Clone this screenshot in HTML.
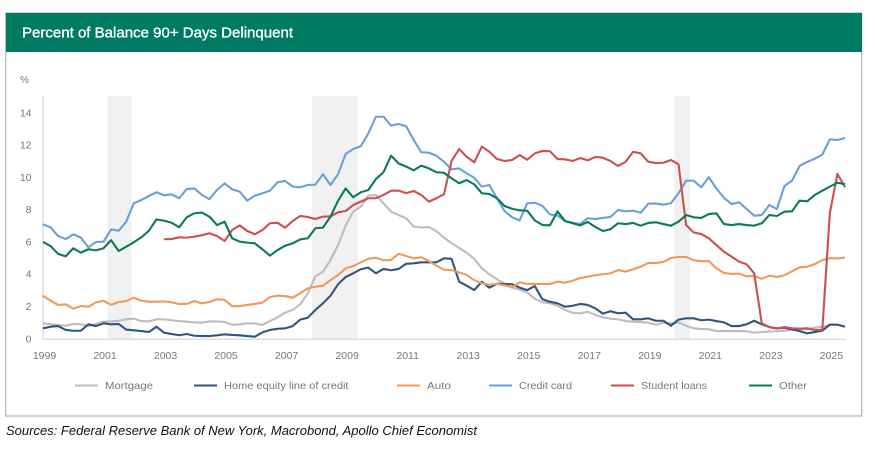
<!DOCTYPE html>
<html lang="en">
<head>
<meta charset="utf-8">
<title>Percent of Balance 90+ Days Delinquent</title>
<style>
html,body{margin:0;padding:0;background:#fff;}
body{width:875px;height:449px;overflow:hidden;font-family:"Liberation Sans",sans-serif;}
svg{display:block;}
</style>
</head>
<body>
<svg id="chart" width="875" height="449" viewBox="0 0 875 449" xmlns="http://www.w3.org/2000/svg">
  <rect x="5.7" y="13" width="856" height="403" fill="#fff" stroke="#b8b8b8" stroke-width="1.3"/>
  <rect x="6" y="13" width="856" height="39" fill="#007b63"/>
  <text x="22" y="37.5" fill="#fff" stroke="#fff" stroke-width="0.3" font-size="14.5" textLength="271" lengthAdjust="spacingAndGlyphs">Percent of Balance 90+ Days Delinquent</text>
  <text x="20" y="83" fill="#777" font-size="10">%</text>
  <g id="bands"></g>
  <g id="axes"></g>
  <g id="series"></g>
  <g id="legend"></g>
  <text x="6" y="435" fill="#111" font-size="12.5" font-style="italic" textLength="471" lengthAdjust="spacingAndGlyphs">Sources: Federal Reserve Bank of New York, Macrobond, Apollo Chief Economist</text>
</svg>
<script>
const startYear = 1999;
const yearTicks = [1999,2001,2003,2005,2007,2009,2011,2013,2015,2017,2019,2021,2023,2025];
const valueTicks = [0,2,4,6,8,10,12,14];
const recessionStarts = [2001.125,2007.88,2019.86];
const recessionEnds = [2001.92,2009.4,2020.38];

const mortgage = [
0.94,0.88,0.84,0.79,0.90,0.88,0.77,0.90,1.04,1.06,
1.10,1.19,1.23,1.08,1.06,1.19,1.19,1.13,1.08,1.04,
1.00,0.98,1.06,1.06,1.02,0.85,0.88,0.94,0.93,0.84,
1.08,1.31,1.60,1.77,2.12,2.80,3.85,4.14,4.86,5.79,
7.00,7.86,8.17,8.85,8.89,8.38,7.86,7.65,7.45,6.93,
6.88,6.90,6.65,6.25,5.90,5.61,5.31,4.93,4.35,3.98,
3.67,3.38,3.15,3.02,2.86,2.45,2.24,2.18,2.03,1.77,
1.60,1.56,1.66,1.46,1.31,1.23,1.19,1.08,1.04,1.02,
0.98,0.86,0.98,0.94,1.00,0.79,0.63,0.59,0.57,0.46,
0.46,0.46,0.46,0.45,0.36,0.40,0.43,0.45,0.49,0.53,
0.57,0.57,0.68,0.72,0.85,0.85,0.75];
const homeEquity = [
0.63,0.73,0.77,0.53,0.48,0.48,0.88,0.77,0.94,0.88,
0.90,0.55,0.51,0.46,0.40,0.73,0.36,0.28,0.20,0.28,
0.17,0.15,0.15,0.20,0.26,0.22,0.20,0.15,0.11,0.38,
0.53,0.60,0.63,0.77,1.17,1.29,1.77,2.18,2.65,3.36,
3.81,4.04,4.29,4.39,4.04,4.31,4.23,4.31,4.63,4.66,
4.72,4.72,4.72,4.97,4.94,3.52,3.27,3.00,3.52,3.15,
3.39,3.38,3.36,3.15,3.00,3.25,2.43,2.28,2.18,1.97,
2.03,2.14,2.08,1.87,1.54,1.69,1.56,1.60,1.19,1.19,
1.25,1.10,1.10,0.79,1.17,1.25,1.25,1.13,1.17,1.08,
1.00,0.77,0.77,0.88,1.10,0.88,0.71,0.63,0.67,0.57,
0.46,0.32,0.40,0.48,0.86,0.86,0.73];
const auto = [
2.65,2.34,2.08,2.12,1.85,2.01,1.97,2.24,2.34,2.09,
2.26,2.32,2.53,2.34,2.28,2.28,2.30,2.24,2.14,2.14,
2.32,2.18,2.26,2.43,2.39,2.00,2.01,2.08,2.14,2.22,
2.57,2.65,2.63,2.53,2.80,3.11,3.21,3.27,3.62,3.93,
4.35,4.49,4.72,4.94,5.00,4.85,4.86,5.25,5.11,4.97,
5.03,4.80,4.51,4.26,4.24,4.10,3.93,3.62,3.42,3.33,
3.38,3.30,3.17,3.48,3.38,3.38,3.38,3.38,3.52,3.46,
3.58,3.75,3.83,3.92,3.98,4.04,4.24,4.14,4.29,4.45,
4.68,4.68,4.74,4.99,5.05,5.05,4.85,4.78,4.80,4.35,
4.06,4.00,4.02,3.85,3.87,3.70,3.89,3.81,3.92,4.16,
4.41,4.45,4.60,4.86,4.97,4.97,5.01];
const creditCard = [
7.07,6.89,6.35,6.16,6.45,6.25,5.65,5.98,6.00,6.76,
6.68,7.24,8.38,8.58,8.83,9.06,8.87,8.93,8.69,9.26,
9.30,8.89,8.64,9.20,9.61,9.24,9.10,8.54,8.85,8.99,
9.16,9.68,9.76,9.41,9.37,9.51,9.53,10.18,9.51,10.18,
11.43,11.74,11.91,12.71,13.74,13.74,13.19,13.29,13.15,12.30,
11.54,11.51,11.33,10.95,10.48,10.54,10.23,9.96,9.41,9.51,
8.69,7.90,7.51,7.32,8.38,8.41,8.23,7.69,7.61,7.28,
7.17,7.09,7.45,7.40,7.47,7.53,7.96,7.88,7.92,7.79,
8.35,8.37,8.29,8.39,9.00,9.78,9.78,9.37,9.99,9.30,
8.72,8.33,8.44,8.02,7.61,7.65,8.27,8.02,9.45,9.78,
10.69,10.94,11.14,11.39,12.34,12.30,12.42];
const studentLoans = [
null,null,null,null,null,null,null,null,null,null,
null,null,null,null,null,null,6.15,6.16,6.27,6.25,
6.31,6.40,6.52,6.35,6.04,6.72,7.01,6.66,6.46,6.72,
7.14,7.17,6.86,7.28,7.59,7.53,7.40,7.55,7.57,7.82,
7.90,8.27,8.48,8.69,8.69,8.89,9.16,9.16,9.01,9.14,
8.89,8.48,8.69,8.94,11.00,11.74,11.26,10.92,11.89,11.57,
11.12,11.00,11.06,11.37,11.08,11.47,11.62,11.60,11.12,11.10,
11.00,11.18,11.04,11.25,11.20,11.00,10.69,10.95,11.57,11.47,
10.95,10.87,10.89,11.06,10.79,7.03,6.57,6.47,6.21,5.79,
5.38,5.07,4.76,4.60,4.04,0.94,0.71,0.61,0.71,0.63,
0.61,0.63,0.53,0.53,7.78,10.20,9.37];
const other = [
5.98,5.73,5.24,5.09,5.59,5.32,5.53,5.46,5.59,6.09,
5.42,5.69,5.96,6.27,6.68,7.38,7.30,7.17,6.89,7.51,
7.76,7.80,7.55,7.03,7.24,6.21,6.00,5.94,5.90,5.53,
5.13,5.48,5.75,5.90,6.14,6.21,6.83,6.87,7.55,8.54,
9.30,8.75,9.06,9.20,9.88,10.30,11.33,10.85,10.65,10.42,
10.71,10.54,10.30,10.27,9.92,9.62,9.82,9.55,9.00,8.95,
8.69,8.21,8.04,7.94,7.92,7.32,7.03,7.01,7.88,7.28,
7.14,7.01,7.22,6.91,6.66,6.77,7.14,7.09,7.16,6.99,
7.16,7.20,7.09,6.99,7.24,7.65,7.51,7.47,7.71,7.76,
7.09,7.03,7.09,7.03,6.99,7.14,7.65,7.59,7.86,7.88,
8.54,8.50,8.89,9.16,9.41,9.65,9.57];

const seriesNames = ["Mortgage","Home equity line of credit","Auto","Credit card","Student loans","Other"];
const seriesValues = [mortgage,homeEquity,auto,creditCard,studentLoans,other];
const seriesColors = ["#bdbdbd","#2f5680","#f09a5a","#6a9fd8","#cd4f4f","#0a7a5c"];
const legendLineX = [75,194,397,489,611,749];
const legendTextWidths = [48,124.5,24,53,66,28];

const NS = "http://www.w3.org/2000/svg";
const plotLeft = 43, plotRight = 845, plotBase = 338.5, plotTop = 96;
const pxPerYear = 30.264, pxPerUnit = 16.14;
function xScale(year){ return plotLeft + (year - startYear) * pxPerYear; }
function yScale(v){ return plotBase - v * pxPerUnit; }
function make(tag, parent, attrs){
  const el = document.createElementNS(NS, tag);
  Object.keys(attrs).forEach(function(k){ el.setAttribute(k, attrs[k]); });
  parent.appendChild(el);
  return el;
}

const bands = document.getElementById("bands");
recessionStarts.forEach(function(s, i){
  const el = make("rect", bands, {x:xScale(s), y:plotTop, width:xScale(recessionEnds[i])-xScale(s), height:plotBase-plotTop+0.5, fill:"#f1f1f1"});
  
  
});

const axes = document.getElementById("axes");
const yAxis = make("line", axes, {x1:plotLeft, x2:plotLeft, y1:plotTop, y2:339.5, stroke:"#dedede", "stroke-width":1.5});


const xAxis = make("line", axes, {x1:plotLeft, x2:plotRight+1, y1:339.2, y2:339.2, stroke:"#dedede", "stroke-width":1.5});



valueTicks.forEach(function(v){
  const t = make("text", axes, {x:31.5, y:yScale(v)+3.8, fill:"#777", "font-size":10.5, "text-anchor":"end"});
  t.textContent = v;
  
  
});
yearTicks.forEach(function(y){
  const t = make("text", axes, {x:xScale(y)+1.5, y:359, fill:"#777", "font-size":10.5, "text-anchor":"middle"});
  t.textContent = y;
  
  
});

const seriesGroup = document.getElementById("series");
seriesValues.forEach(function(values, s){
  let d = "";
  let pen = false;
  values.forEach(function(v, i){
    if (v === null) { pen = false; return; }
    d += (pen ? "L" : "M") + xScale(startYear + i/4).toFixed(2) + " " + yScale(v).toFixed(2);
    pen = true;
  });
  const path = make("path", seriesGroup, {d:d, fill:"none", stroke:seriesColors[s], "stroke-width":2.1, "stroke-linejoin":"round"});
  
  
});

const legend = document.getElementById("legend");
seriesNames.forEach(function(name, s){
  const swatch = make("line", legend, {x1:legendLineX[s], x2:legendLineX[s]+23, y1:385.5, y2:385.5, stroke:seriesColors[s], "stroke-width":2.1});
  
  
  const label = make("text", legend, {x:legendLineX[s]+30, y:389, fill:"#777", "font-size":10.5, textLength:legendTextWidths[s], lengthAdjust:"spacingAndGlyphs"});
  label.textContent = name;
  
  
});
</script>
</body>
</html>
